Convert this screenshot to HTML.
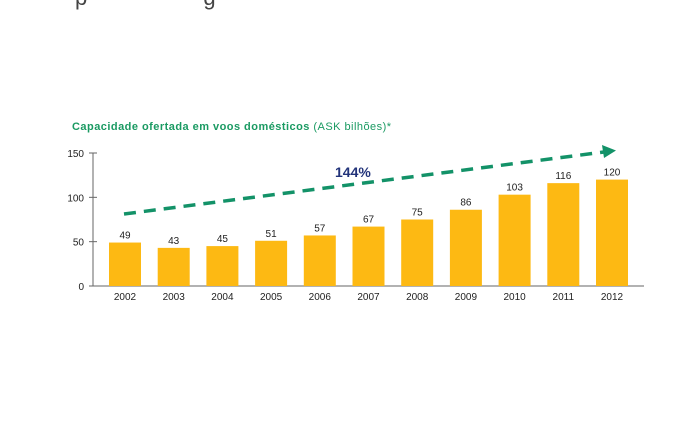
<!DOCTYPE html>
<html><head><meta charset="utf-8"><style>
body{margin:0;background:#fff;width:680px;height:419px;overflow:hidden;font-family:"Liberation Sans",sans-serif}
</style></head><body>
<svg width="680" height="419">
<text x="75" y="5" font-size="22" fill="#444">p&#160;&#160;&#160;&#160;&#160;&#160;&#160;&#160;&#160;&#160;&#160;&#160;&#160;&#160;&#160;&#160;&#160;&#160;&#160;g</text>
<text x="72" y="130" font-size="11" font-weight="bold" fill="#1a9a62" textLength="319" lengthAdjust="spacing">Capacidade ofertada em voos domésticos <tspan font-weight="normal">(ASK bilhões)*</tspan></text>
<g id="axes"></g><g id="bars"></g>
<line x1="124" y1="214" x2="604" y2="152" stroke="#139268" stroke-width="3.5" stroke-dasharray="12,8"/>
<polygon points="616,150.5 602,145 604,158" fill="#139268"/>
<text x="335" y="177" font-size="14" font-weight="bold" fill="#22337a">144%</text>
</svg>
<script>
const categories=["2002","2003","2004","2005","2006","2007","2008","2009","2010","2011","2012"];
const values=[49,43,45,51,57,67,75,86,103,116,120];
const yTicks=[0,50,100,150];
const NS="http://www.w3.org/2000/svg";
const y=v=>286-v*0.8867;
const x=i=>109+i*48.7;
function mk(t,a,p){const e=document.createElementNS(NS,t);for(const k in a)e.setAttribute(k,a[k]);p.appendChild(e);return e;}
const ax=document.getElementById('axes'),bg=document.getElementById('bars');
let l=mk('line',{x1:93,y1:153,x2:93,y2:286,stroke:'#666','stroke-width':1},ax);


l=mk('line',{x1:89,y1:286,x2:644,y2:286,stroke:'#666','stroke-width':1},ax);


yTicks.forEach(v=>{
 const t=mk('line',{x1:89,y1:y(v),x2:97,y2:y(v),stroke:'#666'},ax);
 
 
 const tx=mk('text',{x:84,y:y(v)+4,'text-anchor':'end','font-size':10,fill:'#222'},ax);
 tx.textContent=v;
 
 
});
values.forEach((v,i)=>{
 const r=mk('rect',{x:x(i),y:y(v),width:32,height:286-y(v),fill:'#fdb913'},bg);
 
 
 const t=mk('text',{x:x(i)+16,y:y(v)-4,'text-anchor':'middle','font-size':10,fill:'#222'},bg);
 t.textContent=v;
 
 
 const c=mk('text',{x:x(i)+16,y:300,'text-anchor':'middle','font-size':10,fill:'#222'},bg);
 c.textContent=categories[i];
 
 
});
</script>
</body></html>
